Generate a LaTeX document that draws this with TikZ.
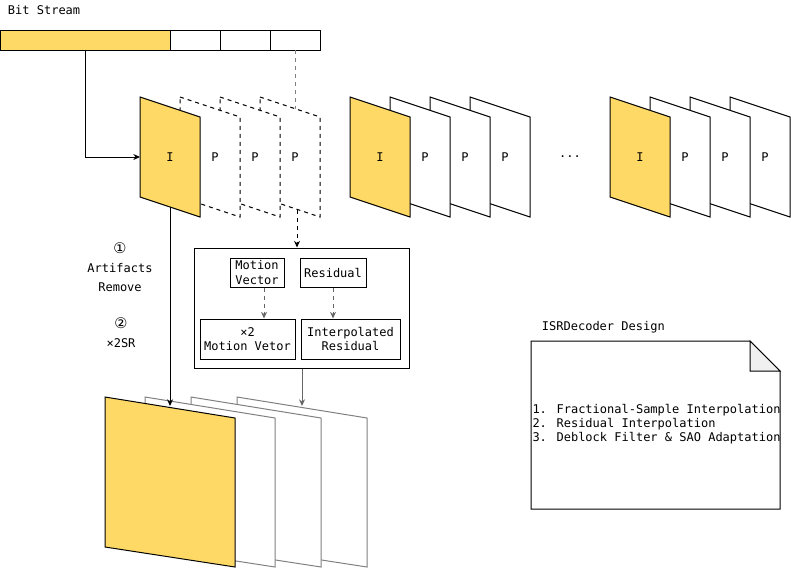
\documentclass[tikz,border=0pt]{standalone}
\usepackage{fontspec}
\setmainfont{DejaVu Sans Mono}
\newfontfamily\circfont{DejaVu Sans}
\usepackage{xcolor}
\usetikzlibrary{arrows.meta}
\definecolor{frameyellow}{HTML}{FFD966}
\definecolor{linegray}{HTML}{808080}
\definecolor{arrowgray}{HTML}{666666}
\definecolor{foldgray}{HTML}{F0F0F0}
\tikzset{
  every node/.style={font=\fontsize{9}{11}\selectfont},
  pframe/.style={draw, fill=white, line width=0.75pt},
  iframe/.style={draw, fill=frameyellow, line width=0.75pt},
  subbox/.style={draw, line width=0.75pt, align=center, inner sep=0pt},
  arr/.style={-{Stealth[length=5pt,width=4.5pt]}, line width=0.75pt},
}

\begin{document}
\begin{tikzpicture}[x=0.75pt, y=-0.75pt, line width=0.75pt]
\useasboundingbox (0,0) rectangle (791,568);

\node[anchor=west] (title) at (3,10) {Bit Stream};
\draw[iframe] (0,30) rectangle (170,50);
\draw (170,30) rectangle (220,50);
\draw (220,30) rectangle (270,50);
\draw (270,30) rectangle (320,50);
\coordinate (bsI) at (85,50);
\coordinate (bsP) at (295,50);
\coordinate (topP) at (295,108.7);
\draw[linegray, dashed] (bsP) -- (topP);

\foreach \x in {260,220,180}
  \draw[pframe, dashed] (\x,97) -- ++(60,20) -- ++(0,100) -- ++(-60,-20) -- cycle;
\draw[iframe] (140,97) -- ++(60,20) -- ++(0,100) -- ++(-60,-20) -- cycle;
\node (i1) at (170,157) {I};
\node (p1a) at (215,157) {P};
\node (p1b) at (255,157) {P};
\node (p1c) at (295,157) {P};

\foreach \x in {470,430,390}
  \draw[pframe] (\x,97) -- ++(60,20) -- ++(0,100) -- ++(-60,-20) -- cycle;
\draw[iframe] (350,97) -- ++(60,20) -- ++(0,100) -- ++(-60,-20) -- cycle;
\node (i2) at (380,157) {I};
\node (p2a) at (425,157) {P};
\node (p2b) at (465,157) {P};
\node (p2c) at (505,157) {P};

\node (dots) at (570,157) {...};

\foreach \x in {730,690,650}
  \draw[pframe] (\x,97) -- ++(60,20) -- ++(0,100) -- ++(-60,-20) -- cycle;
\draw[iframe] (610,97) -- ++(60,20) -- ++(0,100) -- ++(-60,-20) -- cycle;
\node (i3) at (640,157) {I};
\node (p3a) at (685,157) {P};
\node (p3b) at (725,157) {P};
\node (p3c) at (765,157) {P};

\coordinate (iIn) at (140,157);
\draw[arr] (bsI) |- (iIn);

\node[subbox, minimum width=161.25pt, minimum height=90pt] (dec) at (301.5,308) {};
\node[subbox, minimum width=40.5pt, minimum height=21.75pt] (mv) at (257,272.5) {Motion\\Vector};
\node[subbox, minimum width=49.5pt, minimum height=21.75pt] (res) at (333,272.5) {Residual};
\node[subbox, minimum width=71.25pt, minimum height=30pt] (mv2) at (247.5,339) {×2\\Motion Vetor};
\node[subbox, minimum width=74.25pt, minimum height=30pt] (ires) at (350.5,339) {Interpolated\\Residual};
\coordinate (mvx) at (264,0);
\coordinate (resx) at (333,0);
\draw[arr, dashed, arrowgray] (mv.south -| mvx) -- (mv2.north -| mvx);
\draw[arr, dashed, arrowgray] (res.south -| resx) -- (ires.north -| resx);

\coordinate (pBot) at (297,209.5);
\draw[arr, dashed] (pBot) -- (pBot |- dec.north);

\node[align=center, font=\fontsize{9}{14.25}\selectfont] (step1) at (120,267) {{\circfont\fontsize{11}{14.25}\selectfont ①}\\Artifacts\\Remove};
\node[align=center, font=\fontsize{9}{14.25}\selectfont] (step2) at (121,333) {{\circfont\fontsize{11}{14.25}\selectfont ②}\\×2SR};

\foreach \x in {237,191,145}
  \draw[pframe, draw=linegray] (\x,397) -- ++(130,21) -- ++(0,149) -- ++(-130,-20) -- cycle;
\draw[iframe] (105,397) -- ++(130,21) -- ++(0,149) -- ++(-130,-20) -- cycle;

\coordinate (iBot) at (170,207);
\coordinate (srI) at (170,406);
\draw[arr] (iBot) -- (srI);
\coordinate (srP) at (302,406);
\draw[arr, arrowgray] (dec.south -| srP) -- (srP);

\node[anchor=west] (notetitle) at (537,327) {ISRDecoder Design};
\draw (531,341) -- (750,341) -- (780,371) -- (780,509) -- (531,509) -- cycle;
\draw[fill=foldgray] (750,341) -- (750,371) -- (780,371) -- cycle;
\node[anchor=west, align=left, inner sep=0pt, font=\fontsize{9}{10.5}\selectfont] (notetext) at (532,424) {1. Fractional-Sample Interpolation\\2. Residual Interpolation\\3. Deblock Filter \& SAO Adaptation};
\end{tikzpicture}
\end{document}
